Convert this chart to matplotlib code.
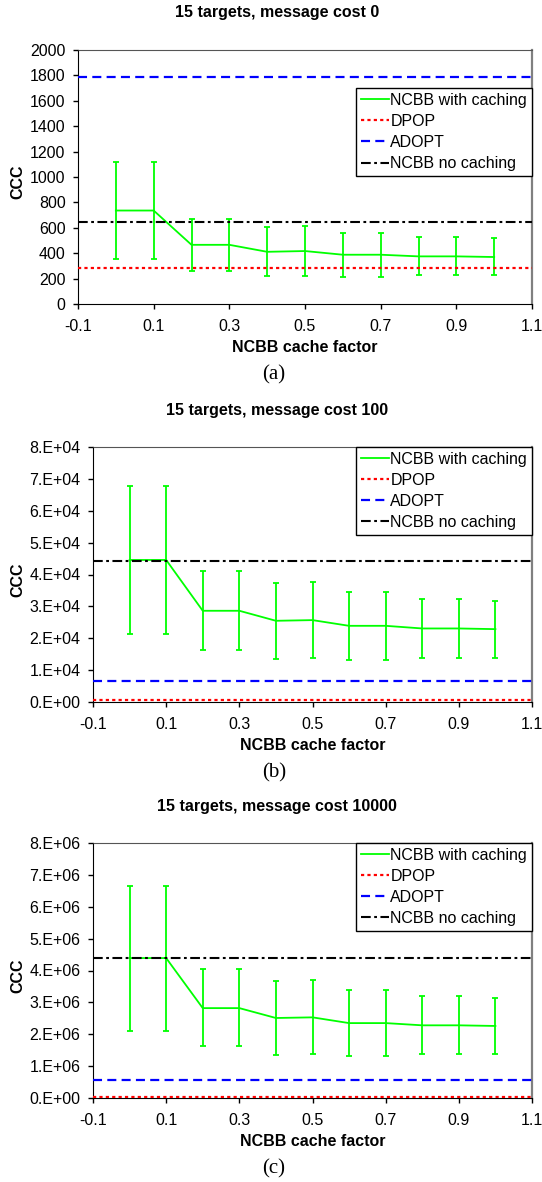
import numpy as np
import matplotlib
matplotlib.use('Agg')
import matplotlib.pyplot as plt
from matplotlib.ticker import FuncFormatter, MultipleLocator
from matplotlib.lines import Line2D

plt.rcParams['font.family'] = ['Liberation Sans', 'DejaVu Sans']
plt.rcParams['axes.unicode_minus'] = False
plt.rcParams['lines.scale_dashes'] = False

# cache factor
x = [0.0, 0.1, 0.2, 0.3, 0.4, 0.5, 0.6, 0.7, 0.8, 0.9, 1.0]
xtick_vals = [-0.1, 0.1, 0.3, 0.5, 0.7, 0.9, 1.1]
xtick_labels = ['-0.1', '0.1', '0.3', '0.5', '0.7', '0.9', '1.1']

# (a) message cost 0
a_mean = [736, 736, 466, 466, 411, 417, 388, 388, 375, 375, 370]
a_hi = [1117, 1117, 668, 668, 608, 611, 561, 561, 524, 524, 516]
a_lo = [351, 351, 262, 262, 218, 223, 215, 215, 225, 225, 225]
a_dpop, a_adopt, a_nocache = 280, 1790, 642

# (b) message cost 100
b_mean = [44560, 44560, 28620, 28620, 25480, 25690, 23900, 23900, 23070, 23070, 22860]
b_hi = [67730, 67730, 40990, 40990, 37330, 37540, 34600, 34600, 32290, 32290, 31770]
b_lo = [21490, 21490, 16250, 16250, 13420, 13740, 13320, 13320, 13940, 13940, 13940]
b_dpop, b_adopt, b_nocache = 630, 6600, 44350

# (c) message cost 10000
c_mean = [4.39e6, 4.39e6, 2.82e6, 2.82e6, 2.51e6, 2.53e6, 2.35e6, 2.35e6, 2.28e6, 2.28e6, 2.26e6]
c_hi = [6.66e6, 6.66e6, 4.05e6, 4.05e6, 3.68e6, 3.70e6, 3.40e6, 3.40e6, 3.19e6, 3.19e6, 3.14e6]
c_lo = [2.11e6, 2.11e6, 1.62e6, 1.62e6, 1.34e6, 1.37e6, 1.33e6, 1.33e6, 1.38e6, 1.38e6, 1.38e6]
c_dpop, c_adopt, c_nocache = 0.042e6, 0.554e6, 4.38e6

W, H = 542, 1182
FS = 11.5


def sci_fmt(v, pos):
    if v == 0:
        return '0.E+00'
    e = int(np.floor(np.log10(abs(v))))
    return '%d.E+%02d' % (round(v / 10 ** e), e)


def panel(box, mean, hi, lo, dpop, adopt, nocache, ymax, ystep, sci, leg_top, title, title_y, caption):
    l, t, r, b = box
    ax = fig.add_axes([l / W, 1 - b / H, (r - l) / W, (b - t) / H])
    mean = np.array(mean)
    yerr = [mean - np.array(lo), np.array(hi) - mean]
    ax.errorbar(x, mean, yerr=yerr, color='#00ff00', lw=1.3, elinewidth=1.3,
                capsize=2.2, capthick=1.3, zorder=2)
    ax.axhline(dpop, color='#ff0000', lw=1.6, dashes=(2.3, 2.3), zorder=4)
    ax.axhline(adopt, color='#0000ff', lw=1.6, dashes=(6.5, 3.8), zorder=3)
    ax.axhline(nocache, color='black', lw=1.5, dashes=(7, 2.5, 2, 2.5), zorder=3)

    ax.set_xlim(-0.1, 1.1)
    ax.set_ylim(0, ymax)
    ax.set_xticks(xtick_vals)
    ax.set_xticklabels(xtick_labels)
    ax.yaxis.set_major_locator(MultipleLocator(ystep))
    if sci:
        ax.yaxis.set_major_formatter(FuncFormatter(sci_fmt))
    ax.tick_params(axis='both', direction='out', length=3.5, width=1, labelsize=FS)
    ax.tick_params(axis='y', pad=5.5)
    ax.tick_params(axis='x', pad=7)
    ax.spines['left'].set_color('black')
    ax.spines['bottom'].set_color('black')
    ax.spines['top'].set_color('#555555')
    ax.spines['right'].set_color('#808080')
    ax.spines['right'].set_linewidth(1.6)
    for s in ax.spines.values():
        s.set_zorder(1)

    # legend entries, in the reference order
    handles = [Line2D([], [], color='#00ff00', lw=1.3),
               Line2D([], [], color='#ff0000', lw=1.6, dashes=(2.3, 2.3)),
               Line2D([], [], color='#0000ff', lw=1.6, dashes=(6.5, 3.8)),
               Line2D([], [], color='black', lw=1.5, dashes=(7, 2.5, 2, 2.5))]
    labels = ['NCBB with caching', 'DPOP', 'ADOPT', 'NCBB no caching']
    leg = ax.legend(handles, labels, loc='upper right', bbox_to_anchor=(1.0, leg_top),
                    fontsize=FS, frameon=True, fancybox=False, framealpha=1,
                    edgecolor='black', borderpad=0.3, labelspacing=0.38,
                    handlelength=1.75, handletextpad=0.1, borderaxespad=0)
    leg.get_frame().set_linewidth(1.0)

    cx = (l + r) / 2
    fig.text(277 / W, 1 - title_y / H, title, ha='center', va='center',
             fontsize=FS, fontweight='bold')
    fig.text(cx / W, 1 - (b + 43) / H, 'NCBB cache factor', ha='center', va='center',
             fontsize=FS, fontweight='bold')
    fig.text(18 / W, 1 - ((t + b) / 2 + 5) / H, 'CCC', ha='center', va='center',
             rotation=90, fontsize=FS, fontweight='bold')
    fig.text(274 / W, 1 - (b + 71) / H, caption, ha='center', va='center',
             fontsize=15, family=['Liberation Serif', 'DejaVu Serif'])
    return ax


fig = plt.figure(figsize=(W / 100, H / 100), dpi=100)

panel((78, 50, 532, 304), a_mean, a_hi, a_lo, a_dpop, a_adopt, a_nocache,
      2000, 200, False, 0.85, '15 targets, message cost 0', 13, '(a)')
panel((93, 447, 532, 702), b_mean, b_hi, b_lo, b_dpop, b_adopt, b_nocache,
      8e4, 1e4, True, 1.0, '15 targets, message cost 100', 411, '(b)')
panel((93, 843, 532, 1098), c_mean, c_hi, c_lo, c_dpop, c_adopt, c_nocache,
      8e6, 1e6, True, 1.0, '15 targets, message cost 10000', 807, '(c)')

fig.savefig('out.png', dpi=100)
